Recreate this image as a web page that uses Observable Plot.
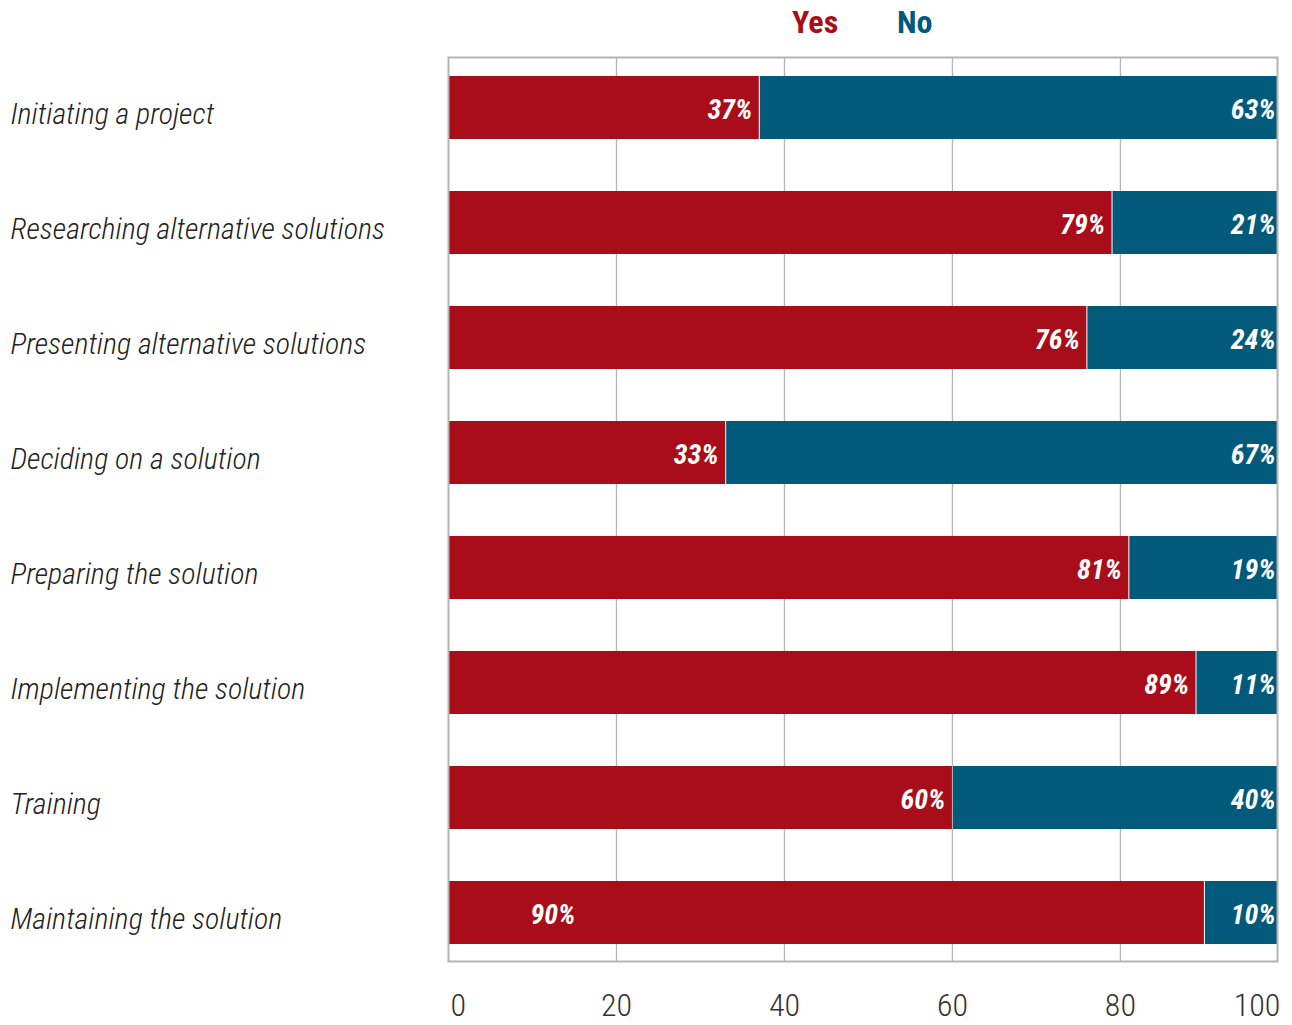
<!DOCTYPE html>
<html>
<head>
<meta charset="utf-8">
<script src="https://cdn.jsdelivr.net/npm/d3@7"></script>
<script src="https://cdn.jsdelivr.net/npm/@observablehq/plot@0.6"></script>
<style>
  html, body { margin: 0; padding: 0; background: #fff; }
  body { width: 1292px; height: 1025px; overflow: hidden; font-family: "Roboto Condensed", "Liberation Sans Narrow", "DejaVu Sans Condensed", sans-serif; font-stretch: condensed; }
  #legend { position: relative; height: 46px; }
  #legend span { position: absolute; top: 4px; font-size: 32px; font-weight: 700; line-height: 36px; }
</style>
</head>
<body>
<div id="legend"></div>
<div id="chart"></div>
<script>
const tasks = [
  "Initiating a project",
  "Researching alternative solutions",
  "Presenting alternative solutions",
  "Deciding on a solution",
  "Preparing the solution",
  "Implementing the solution",
  "Training",
  "Maintaining the solution"
];
const yesValues = [37, 79, 76, 33, 81, 89, 60, 90];
const noValues  = [63, 21, 24, 67, 19, 11, 40, 10];
const responses = ["Yes", "No"];
const colors = ["#A90D1A", "#025A7B"];
const xTicks = [0, 20, 40, 60, 80, 100];

const FONT = '"Roboto Condensed", "Liberation Sans Narrow", "DejaVu Sans Condensed", sans-serif';

// legend
const legend = document.getElementById("legend");
const legendLeft = [792, 897];
responses.forEach((r, i) => {
  const s = document.createElement("span");
  s.textContent = r;
  s.style.color = colors[i];
  s.style.left = legendLeft[i] + "px";
  legend.appendChild(s);
});

const long = [];
tasks.forEach((t, i) => {
  long.push({task: t, response: "Yes", value: yesValues[i]});
  long.push({task: t, response: "No", value: noValues[i]});
});
const rows = tasks.map((t, i) => ({task: t, yes: yesValues[i], no: noValues[i]}));
const lastTask = tasks[tasks.length - 1];

const labelStyle = {fill: "#fff", fontSize: 28, fontWeight: 700, fontStyle: "italic", dy: 2};
const tickStyle = {tickSize: 0, tickPadding: 22, fontSize: 32, fontWeight: 300, fill: "#333", label: null};

const chart = Plot.plot({
  width: 1292,
  height: 979,
  marginLeft: 448,
  marginRight: 15,
  marginTop: 3.5,
  marginBottom: 54.4,
  style: {fontFamily: FONT, background: "#fff"},
  x: {domain: [0, 98.7], axis: null, label: null},
  y: {domain: tasks, paddingInner: 0.45, paddingOuter: 0.225, axis: null, label: null},
  color: {domain: responses, range: colors},
  marks: [
    Plot.gridX([20, 40, 60, 80], {stroke: "#b4b4b4", strokeOpacity: 1, strokeWidth: 1.3, insetTop: 7.5, insetBottom: 9.6}),
    Plot.barX(long, Plot.stackX({y: "task", x: "value", fill: "response", clip: true, insetLeft: 1})),
    Plot.frame({stroke: "#b4b4b4", strokeWidth: 2, insetTop: 7.5, insetBottom: 9.6}),
    Plot.text(rows.filter(d => d.task !== lastTask), {
      y: "task", x: "yes", text: d => d.yes + "%", textAnchor: "end", dx: -7, ...labelStyle
    }),
    Plot.text(rows.filter(d => d.task === lastTask), {
      y: "task", text: d => d.yes + "%", frameAnchor: "left", textAnchor: "start", dx: 82, ...labelStyle
    }),
    Plot.text(rows, {
      y: "task", text: d => d.no + "%", frameAnchor: "right", textAnchor: "end", dx: -2, ...labelStyle
    }),
    Plot.axisY({tickSize: 0, textAnchor: "start", dx: -429, dy: 6, fontSize: 30, fontStyle: "italic", fontWeight: 300, fill: "#222", label: null}),
    Plot.axisX(xTicks.slice(1, -1), {...tickStyle}),
    Plot.axisX([xTicks[0]], {...tickStyle, textAnchor: "start", dx: 2}),
    Plot.axisX([xTicks[xTicks.length - 1]], {...tickStyle, textAnchor: "end", dx: -8})
  ]
});
document.getElementById("chart").appendChild(chart);
</script>
</body>
</html>
